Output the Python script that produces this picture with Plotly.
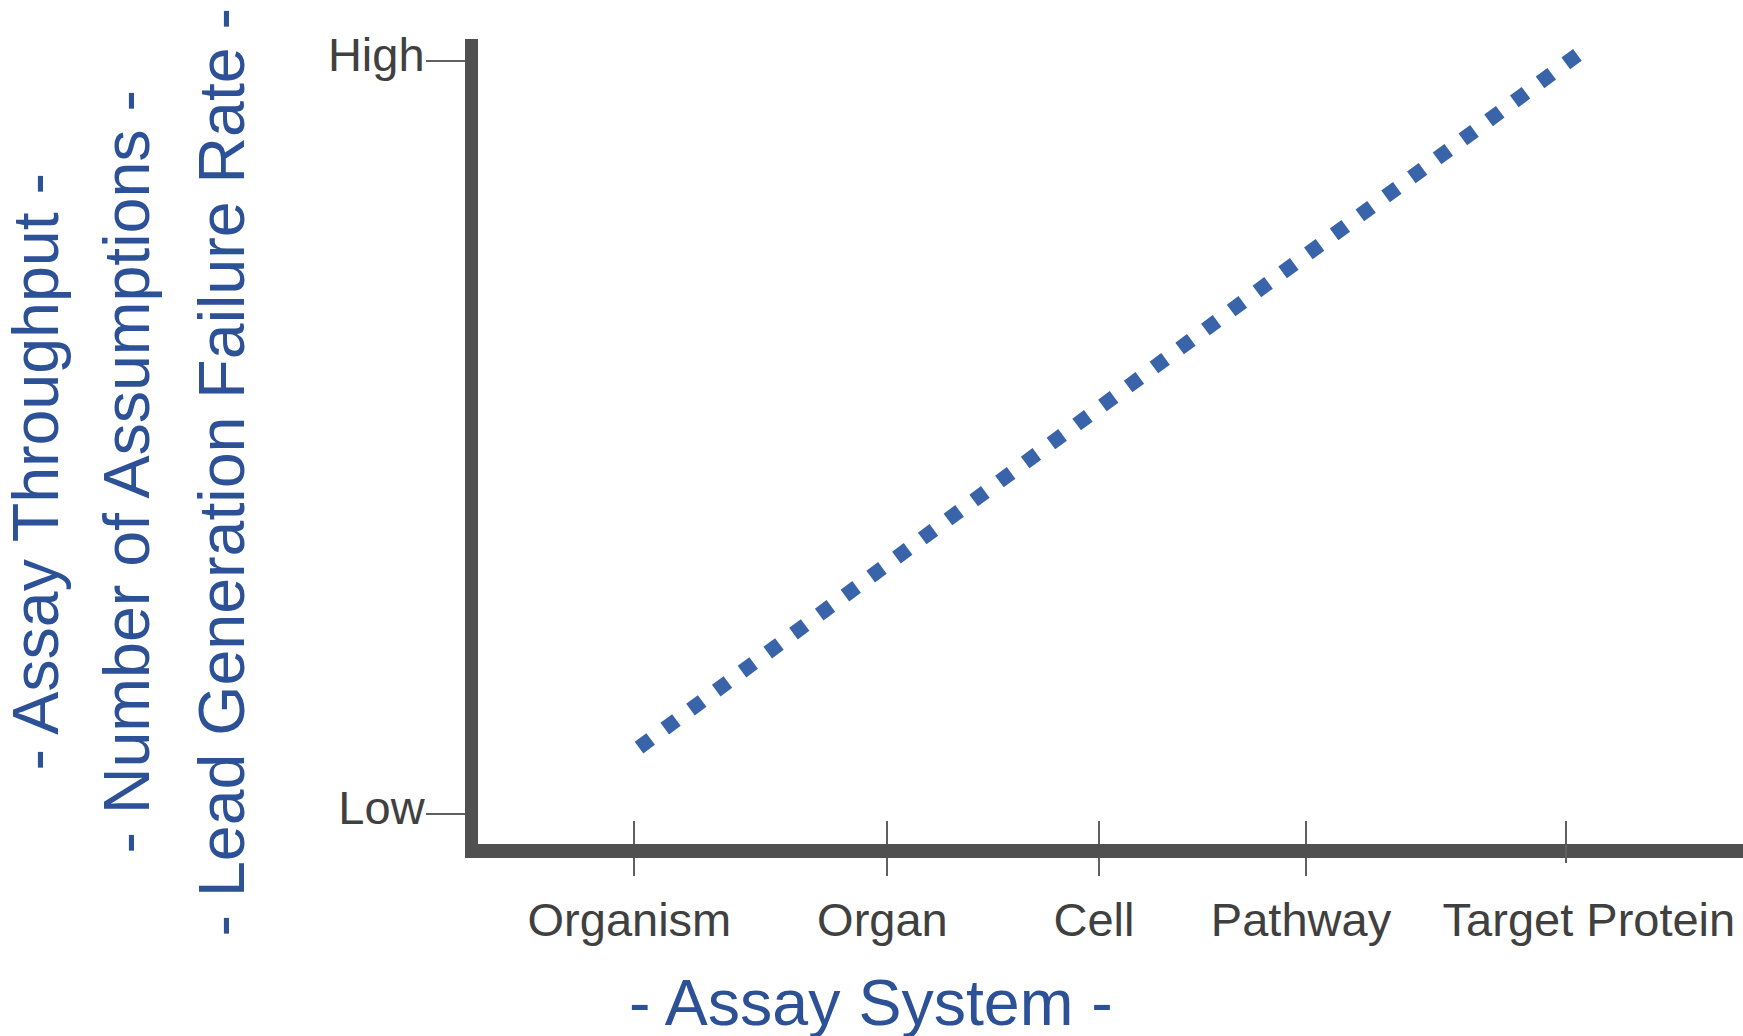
import plotly.graph_objects as go

# ---- data ----
stages = ["Organism", "Organ", "Cell", "Pathway", "Target Protein"]
stage_x = [0.68, 1.78, 2.70, 3.60, 4.73]          # category positions on the assay-system axis
level_vals = [0, 1]
level_labels = ["Low", "High"]
trend_x = [0.70, 4.78]
trend_y = [0.088, 1.008]

y_titles = ["- Assay Throughput -", "- Number of Assumptions -", "- Lead Generation Failure Rate -"]
x_title = "- Assay System -"

FONT = "Liberation Sans, Arial, sans-serif"
BLUE_TXT = "#2c5197"
BLUE_LINE = "#3a64a9"
AXIS = "#505050"
TICK = "#606060"
LABEL = "#404040"

W, H = 1743, 1036
# plot area in page pixels
SX0, SY0, SY1 = 478, 39, 844
L, R, T, B = SX0, 0, SY0, H - SY1
pw, ph = W - L - R, H - T - B

XR = [0, 5.5]

fig = go.Figure()
fig.add_trace(go.Scatter(
    x=trend_x, y=trend_y, mode="lines",
    line=dict(color=BLUE_LINE, width=14.5, dash="14.5px,17.5px"),
    hoverinfo="skip", showlegend=False))
# invisible traces for the overlay axes (inside ticks / last label)
for ax in ["x2", "x3"]:
    fig.add_trace(go.Scatter(x=trend_x, y=trend_y, xaxis=ax, mode="lines",
                             line=dict(width=0), hoverinfo="skip", showlegend=False))

tick_common = dict(ticks="outside", ticklen=18, tickwidth=2, tickcolor=TICK,
                   tickfont=dict(size=47, color=LABEL, family=FONT),
                   showgrid=False, zeroline=False, fixedrange=True, range=XR, tickmode="array")

fig.update_layout(
    width=W, height=H,
    margin=dict(l=L, r=R, t=T, b=B, pad=0),
    paper_bgcolor="white", plot_bgcolor="white",
    font=dict(family=FONT, color=LABEL, size=47),
    xaxis=dict(tickvals=stage_x[:-1], ticktext=stages[:-1],
               showline=True, linewidth=14, linecolor=AXIS, mirror=False,
               ticklabelshift=-5, ticklabelstandoff=4, **tick_common),
    xaxis3=dict(overlaying="x", side="bottom", anchor="y",
                tickvals=stage_x[-1:], ticktext=stages[-1:],
                showline=False, ticklabelshift=23, ticklabelstandoff=17, **tick_common),
    xaxis2=dict(range=XR, overlaying="x", side="bottom", anchor="y",
                tickmode="array", tickvals=stage_x, showticklabels=False,
                ticks="inside", ticklen=23, tickwidth=2, tickcolor=TICK,
                showline=False, showgrid=False, zeroline=False),
    yaxis=dict(range=[-0.04, 1.029], tickmode="array", tickvals=level_vals, ticktext=level_labels,
               showline=True, linewidth=13, linecolor=AXIS,
               ticks="outside", ticklen=39, tickwidth=1.5, tickcolor=TICK,
               ticklabelshift=-6, ticklabelstandoff=-8,
               tickfont=dict(size=47, color=LABEL, family=FONT),
               showgrid=False, zeroline=False, fixedrange=True),
)

def px2paper_x(sx):
    return (sx - SX0) / pw

def px2paper_y(sy):
    return (SY1 - sy) / ph

fig.add_annotation(text=x_title, x=px2paper_x(871), y=px2paper_y(1003), xref="paper", yref="paper",
                   showarrow=False, xanchor="center", yanchor="middle",
                   font=dict(size=64.5, color=BLUE_TXT, family=FONT))

for t, cx in zip(y_titles, [35.5, 126.5, 221.5]):
    fig.add_annotation(text=t, x=px2paper_x(cx), y=px2paper_y(472), xref="paper", yref="paper",
                       showarrow=False, xanchor="center", yanchor="middle", textangle=-90,
                       font=dict(size=64.5, color=BLUE_TXT, family=FONT))

fig.write_html("out.html", config={"displayModeBar": False},
               post_script="document.body.style.margin='0';document.body.style.overflow='hidden';")
